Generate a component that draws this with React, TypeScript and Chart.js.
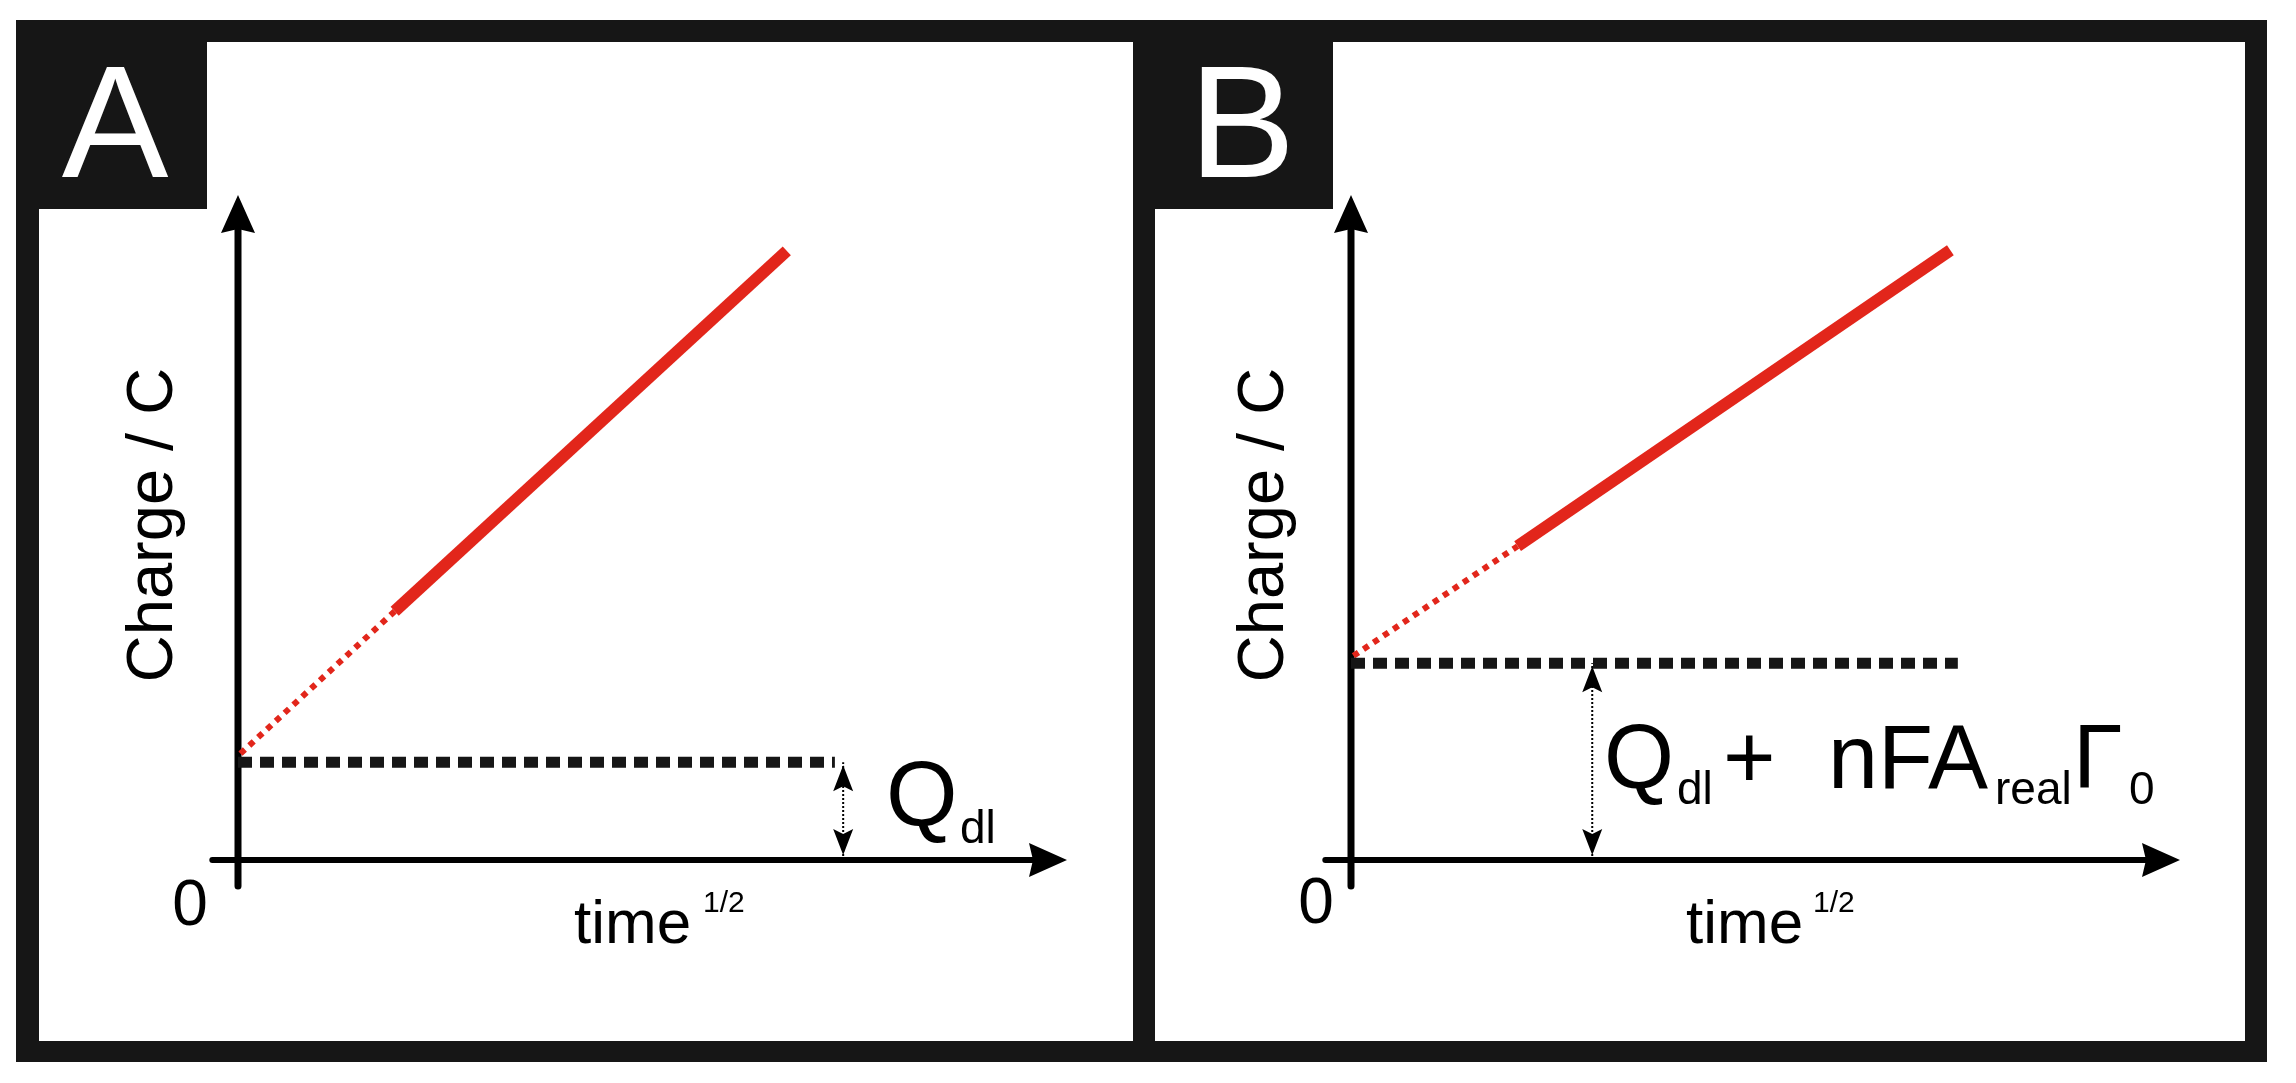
import React, { useEffect, useRef } from 'react';
import { Chart, registerables } from 'chart.js';

Chart.register(...registerables);

// ---------- Data (chart units: x = time^1/2, y = charge, both arbitrary 0..10) ----------
const panelLetters = ['A', 'B'];
const yTitle = 'Charge / C';
const xTitle = 'time';
const xTitleSup = '1/2';
const originTick = '0';

// Panel A
const solidA = [{ x: 1.89, y: 3.74 }, { x: 6.62, y: 9.16 }];
const extrapA = [{ x: 0.03, y: 1.6 }, { x: 1.89, y: 3.74 }];
const levelA = [{ x: 0, y: 1.47 }, { x: 7.2, y: 1.47 }];
const spanA = [{ x: 7.3, y: 0 }, { x: 7.3, y: 1.47 }];

// Panel B
const solidB = [{ x: 2.01, y: 4.72 }, { x: 7.23, y: 9.17 }];
const extrapB = [{ x: 0.03, y: 3.07 }, { x: 2.01, y: 4.72 }];
const levelB = [{ x: 0, y: 2.96 }, { x: 7.32, y: 2.96 }];
const spanB = [{ x: 2.91, y: 0 }, { x: 2.91, y: 2.96 }];

// Annotation labels
const labelA = [
  { t: 'Q', size: 92, dx: 648, dy: -35 },
  { t: 'dl', size: 46, dx: 722, dy: -17 },
];
const labelB = [
  { t: 'Q', size: 90, dx: 253, dy: -72 },
  { t: 'dl', size: 46, dx: 326, dy: -56 },
  { t: '+', size: 90, dx: 372, dy: -72 },
  { t: 'nFA', size: 90, dx: 477, dy: -72 },
  { t: 'real', size: 46, dx: 644, dy: -56 },
  { t: '\u0393', size: 90, dx: 722, dy: -72 },
  { t: '0', size: 46, dx: 778, dy: -56 },
];

const RED = '#E2261B';
const FRAME = '#161616';
const FONT = '"Liberation Sans", Arial, Helvetica, sans-serif';

type PanelCfg = {
  letter: string;
  canvasLeft: number;
  width: number;
  frame: [number, number];
  white: [number, number];
  box: [number, number];
  letterX: number;
  padLeft: number;
  padRight: number;
  solid: any[];
  extrap: any[];
  level: any[];
  span: any[];
  labels: any[];
  zeroDx: number;
  zeroDy: number;
  yTitleDx: number;
  timeDx: number;
  supDx: number;
};

const panels: PanelCfg[] = [
  {
    letter: panelLetters[0], canvasLeft: 0, width: 1144,
    frame: [16, 1144], white: [39, 1133], box: [16, 207], letterX: 115,
    padLeft: 238, padRight: 77,
    solid: solidA, extrap: extrapA, level: levelA, span: spanA, labels: labelA,
    zeroDx: -48, zeroDy: 65, yTitleDx: -66, timeDx: 336, supDx: 465,
  },
  {
    letter: panelLetters[1], canvasLeft: 1144, width: 1152,
    frame: [0, 1123], white: [11, 1101], box: [0, 189], letterX: 98,
    padLeft: 207, padRight: 116,
    solid: solidB, extrap: extrapB, level: levelB, span: spanB, labels: labelB,
    zeroDx: -35, zeroDy: 63, yTitleDx: -68, timeDx: 335, supDx: 462,
  },
];

function arrowHead(ctx: CanvasRenderingContext2D, tx: number, ty: number, dirX: number, dirY: number, len: number, hw: number, notch: number) {
  const px = -dirY, py = dirX;
  const bx = tx - dirX * len, by = ty - dirY * len;
  ctx.beginPath();
  ctx.moveTo(tx, ty);
  ctx.lineTo(bx + px * hw, by + py * hw);
  ctx.lineTo(tx - dirX * (len - notch), ty - dirY * (len - notch));
  ctx.lineTo(bx - px * hw, by - py * hw);
  ctx.closePath();
  ctx.fill();
}

function makePlugin(p: PanelCfg) {
  return {
    id: 'schematic',
    beforeDraw(chart: any) {
      const ctx: CanvasRenderingContext2D = chart.ctx;
      ctx.save();
      ctx.fillStyle = '#ffffff';
      ctx.fillRect(0, 0, chart.width, chart.height);
      ctx.fillStyle = FRAME;
      ctx.fillRect(p.frame[0], 20, p.frame[1] - p.frame[0], 1042);
      ctx.fillStyle = '#ffffff';
      ctx.fillRect(p.white[0], 42, p.white[1] - p.white[0], 999);
      ctx.fillStyle = FRAME;
      ctx.fillRect(p.box[0], 20, p.box[1] - p.box[0], 189);
      ctx.fillStyle = '#ffffff';
      ctx.font = `160px ${FONT}`;
      ctx.textAlign = 'center';
      ctx.textBaseline = 'alphabetic';
      ctx.fillText(p.letter, p.letterX, 177);
      ctx.restore();
    },
    beforeDatasetsDraw(chart: any) {
      const ctx: CanvasRenderingContext2D = chart.ctx;
      const xs = chart.scales.x, ys = chart.scales.y;
      const x0 = xs.getPixelForValue(0), y0 = ys.getPixelForValue(0);
      const yTop = ys.getPixelForValue(10), xEnd = xs.getPixelForValue(10);
      const yBelow = ys.getPixelForValue(-0.39), xBefore = xs.getPixelForValue(-0.31);
      ctx.save();
      ctx.strokeStyle = '#000';
      ctx.fillStyle = '#000';
      ctx.lineCap = 'round';
      // y axis
      ctx.lineWidth = 7;
      ctx.beginPath();
      ctx.moveTo(x0, yBelow);
      ctx.lineTo(x0, yTop + 30);
      ctx.stroke();
      arrowHead(ctx, x0, yTop, 0, -1, 38, 17, 4);
      // x axis
      ctx.lineWidth = 6;
      ctx.beginPath();
      ctx.moveTo(xBefore, y0);
      ctx.lineTo(xEnd - 30, y0);
      ctx.stroke();
      arrowHead(ctx, xEnd, y0, 1, 0, 38, 17, 4);
      ctx.restore();
    },
    afterDatasetsDraw(chart: any) {
      const ctx: CanvasRenderingContext2D = chart.ctx;
      const xs = chart.scales.x, ys = chart.scales.y;
      const ox = xs.getPixelForValue(0), oy = ys.getPixelForValue(0);
      const meta = chart.getDatasetMeta(3);
      const pb = meta.data[0], pt = meta.data[1];
      ctx.save();
      ctx.fillStyle = '#000';
      // double-headed span arrow
      arrowHead(ctx, pt.x, pt.y + 3, 0, -1, 26, 10, 5);
      arrowHead(ctx, pb.x, pb.y - 5, 0, 1, 26, 10, 5);

      ctx.fillStyle = '#000';
      ctx.textBaseline = 'alphabetic';
      // origin tick
      ctx.font = `64px ${FONT}`;
      ctx.textAlign = 'center';
      ctx.fillText(originTick, ox + p.zeroDx, oy + p.zeroDy);
      // x title
      ctx.textAlign = 'left';
      ctx.font = `62px ${FONT}`;
      ctx.fillText(xTitle, ox + p.timeDx, oy + 83);
      ctx.font = `30px ${FONT}`;
      ctx.fillText(xTitleSup, ox + p.supDx, oy + 52);
      // y title
      ctx.save();
      ctx.translate(ox + p.yTitleDx, oy - 335);
      ctx.rotate(-Math.PI / 2);
      ctx.textAlign = 'center';
      ctx.font = `65px ${FONT}`;
      ctx.fillText(yTitle, 0, 0);
      ctx.restore();
      // annotation
      ctx.textAlign = 'left';
      for (const l of p.labels) {
        ctx.font = `${l.size}px ${FONT}`;
        ctx.fillText(l.t, ox + l.dx, oy + l.dy);
      }
      ctx.restore();
    },
  };
}

function Panel({ p }: { p: PanelCfg }) {
  const ref = useRef<HTMLCanvasElement | null>(null);
  useEffect(() => {
    if (!ref.current) return;
    const chart = new Chart(ref.current, {
      type: 'scatter',
      data: {
        datasets: [
          { data: p.level, showLine: true, borderColor: FRAME, borderWidth: 11, borderDash: [14, 8], borderCapStyle: 'butt', pointRadius: 0, clip: false } as any,
          { data: p.extrap, showLine: true, borderColor: RED, borderWidth: 6, borderDash: [6, 6], borderCapStyle: 'butt', pointRadius: 0, clip: false } as any,
          { data: p.solid, showLine: true, borderColor: RED, borderWidth: 12, borderCapStyle: 'butt', pointRadius: 0, clip: false } as any,
          { data: p.span, showLine: true, borderColor: '#000', borderWidth: 2, borderDash: [2, 2], borderCapStyle: 'butt', pointRadius: 0, clip: false } as any,
        ],
      },
      options: {
        responsive: false,
        animation: false,
        events: [],
        devicePixelRatio: 1,
        layout: { padding: { left: p.padLeft, right: p.padRight, top: 195, bottom: 223 } },
        scales: {
          x: { type: 'linear', min: 0, max: 10, display: false },
          y: { type: 'linear', min: 0, max: 10, display: false },
        },
        plugins: { legend: { display: false }, tooltip: { enabled: false } },
      },
      plugins: [makePlugin(p)],
    } as any);
    return () => chart.destroy();
  }, [p]);
  return (
    <canvas
      ref={ref}
      width={p.width}
      height={1083}
      style={{ position: 'absolute', left: p.canvasLeft, top: 0, width: p.width, height: 1083, display: 'block' }}
    />
  );
}

export default function App() {
  return (
    <div style={{ position: 'absolute', left: 0, top: 0, width: 2296, height: 1083, background: '#fff', overflow: 'hidden' }}>
      {panels.map((p) => (
        <Panel key={p.letter} p={p} />
      ))}
    </div>
  );
}
